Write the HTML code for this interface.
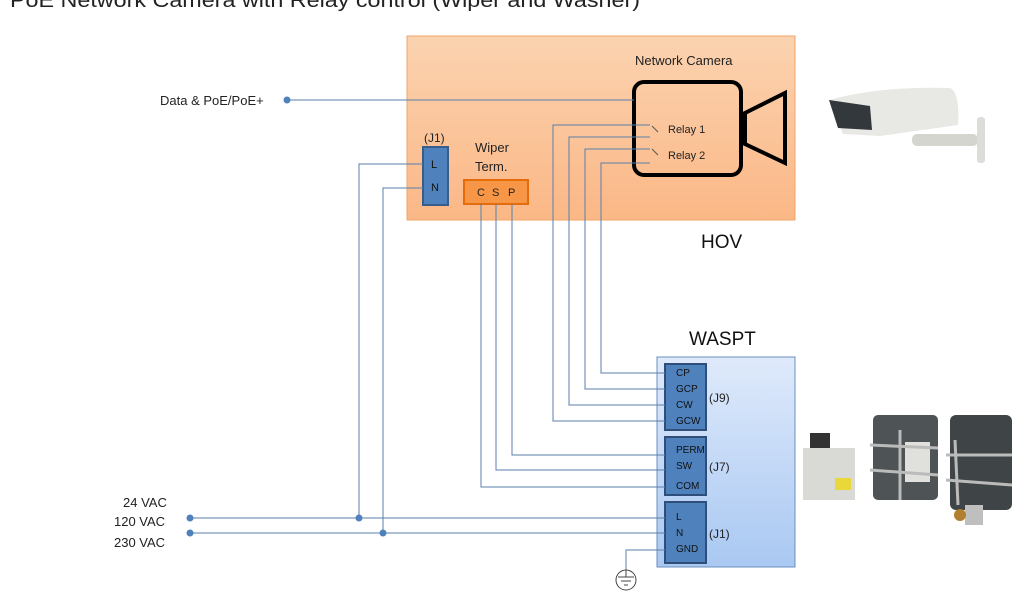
<!DOCTYPE html>
<html><head><meta charset="utf-8"><style>
html,body{margin:0;padding:0;background:#fff;width:1024px;height:600px;overflow:hidden}
svg{display:block;font-family:"Liberation Sans",sans-serif}
</style></head><body>
<svg width="1024" height="600" viewBox="0 0 1024 600">
<defs>
<linearGradient id="og" x1="0" y1="0" x2="0" y2="1"><stop offset="0" stop-color="#fbd3b0"/><stop offset="1" stop-color="#fbb786"/></linearGradient>
<linearGradient id="bg" x1="0" y1="0" x2="0" y2="1"><stop offset="0" stop-color="#dfeafb"/><stop offset="1" stop-color="#a9c8f2"/></linearGradient>
</defs>
<text x="10" y="7" font-size="20" fill="#222" textLength="630" lengthAdjust="spacingAndGlyphs">PoE Network Camera with Relay control (Wiper and Washer)</text>
<!-- HOV box -->
<rect x="407" y="36" width="388" height="184" fill="url(#og)" stroke="#f0a468" stroke-width="1"/>
<text x="635" y="65" font-size="13" fill="#222">Network  Camera</text>
<rect x="634" y="82" width="107" height="93" rx="10" fill="none" stroke="#000" stroke-width="4"/>
<polygon points="745,113 785,93 785,163 745,144" fill="none" stroke="#000" stroke-width="4" stroke-linejoin="miter"/>
<text x="668" y="133" font-size="11" fill="#222">Relay 1</text>
<text x="668" y="159" font-size="11" fill="#222">Relay 2</text>
<g stroke="#555" stroke-width="1"><line x1="652" y1="126" x2="658" y2="132"/><line x1="652" y1="149" x2="658" y2="155"/></g>
<text x="701" y="248" font-size="19" fill="#111">HOV</text>
<!-- J1 top -->
<text x="424" y="142" font-size="12" fill="#222">(J1)</text>
<rect x="423" y="147" width="25" height="58" fill="#4f81bd" stroke="#385d8a" stroke-width="2"/>
<text x="431" y="168" font-size="11" fill="#111">L</text>
<text x="431" y="191" font-size="11" fill="#111">N</text>
<text x="475" y="152" font-size="13" fill="#222">Wiper</text>
<text x="475" y="171" font-size="13" fill="#222">Term.</text>
<rect x="464" y="180" width="64" height="24" fill="#f79646" stroke="#e46c0a" stroke-width="2"/>
<text x="477" y="196" font-size="11" fill="#222">C</text><text x="492" y="196" font-size="11" fill="#222">S</text><text x="508" y="196" font-size="11" fill="#222">P</text>
<!-- WASPT -->
<text x="689" y="345" font-size="19" fill="#111">WASPT</text>
<rect x="657" y="357" width="138" height="210" fill="url(#bg)" stroke="#6b8fbf" stroke-width="1"/>
<g fill="#4f81bd" stroke="#2f4f7a" stroke-width="2">
<rect x="665" y="364" width="41" height="66"/><rect x="665" y="437" width="41" height="58"/><rect x="665" y="502" width="41" height="61"/></g>
<g font-size="10" fill="#111">
<text x="676" y="376">CP</text><text x="676" y="392">GCP</text><text x="676" y="408">CW</text><text x="676" y="424">GCW</text>
<text x="676" y="453">PERM</text><text x="676" y="469">SW</text><text x="676" y="489">COM</text>
<text x="676" y="520">L</text><text x="676" y="536">N</text><text x="676" y="552">GND</text></g>
<g font-size="12" fill="#222"><text x="709" y="402">(J9)</text><text x="709" y="471">(J7)</text><text x="709" y="538">(J1)</text></g>
<!-- wires -->
<g stroke="#5a7fa8" stroke-width="1" fill="none">
<line x1="287" y1="100" x2="634" y2="100"/>
<polyline points="650,125 553,125 553,421 665,421"/>
<polyline points="650,137 569,137 569,405 665,405"/>
<polyline points="650,149 585,149 585,389 665,389"/>
<polyline points="650,163 601,163 601,373 665,373"/>
<polyline points="481,204 481,487 665,487"/>
<polyline points="496,204 496,470 665,470"/>
<polyline points="512,204 512,455 665,455"/>
<polyline points="423,164 359,164 359,518"/>
<polyline points="423,188 383,188 383,533"/>
<line x1="190" y1="518" x2="665" y2="518"/>
<line x1="190" y1="533" x2="665" y2="533"/>
<polyline points="665,550 626,550 626,570"/>
</g>
<g fill="#4f81bd"><circle cx="287" cy="100" r="3.5"/><circle cx="190" cy="518" r="3.5"/><circle cx="190" cy="533" r="3.5"/><circle cx="359" cy="518" r="3.5"/><circle cx="383" cy="533" r="3.5"/></g>
<circle cx="626" cy="580" r="10" fill="none" stroke="#444" stroke-width="1"/>
<g stroke="#444"><line x1="626" y1="570" x2="626" y2="577"/><line x1="618" y1="577" x2="634" y2="577"/><line x1="621" y1="581" x2="631" y2="581"/><line x1="624" y1="585" x2="628" y2="585"/></g>
<g font-size="13" fill="#222">
<text x="160" y="105">Data &amp; PoE/PoE+</text>
<text x="123" y="507">24 VAC</text><text x="114" y="526">120 VAC</text><text x="114" y="547">230 VAC</text></g>
<!-- camera photo -->
<path d="M829 100 Q880 86 950 88 Q960 92 958 125 L880 136 L843 134 Z" fill="#e8e8e4"/>
<path d="M829 100 L838 128 L872 130 L870 106 Z" fill="#33383c"/>
<rect x="912" y="134" width="66" height="12" rx="5" fill="#d5d5d0"/>
<rect x="977" y="117" width="8" height="46" rx="3" fill="#dcdcd8"/>
<!-- washer photos -->
<rect x="803" y="448" width="52" height="52" fill="#d9d9d6"/><rect x="810" y="433" width="20" height="15" fill="#333"/><rect x="835" y="478" width="16" height="12" fill="#e8d83a"/>
<rect x="873" y="415" width="65" height="85" rx="5" fill="#4e5356"/><rect x="905" y="442" width="25" height="40" fill="#e0e0dc"/>
<g stroke="#bbb" stroke-width="3"><line x1="870" y1="445" x2="938" y2="448"/><line x1="870" y1="470" x2="938" y2="475"/><line x1="900" y1="430" x2="900" y2="500"/></g>
<rect x="950" y="415" width="62" height="95" rx="6" fill="#3f4446"/><rect x="965" y="505" width="18" height="20" fill="#bfbfbf"/><circle cx="960" cy="515" r="6" fill="#b08030"/>
<g stroke="#bbb" stroke-width="3"><line x1="946" y1="455" x2="1012" y2="455"/><line x1="946" y1="480" x2="1012" y2="485"/><line x1="955" y1="440" x2="958" y2="505"/></g>
</svg>
</body></html>
